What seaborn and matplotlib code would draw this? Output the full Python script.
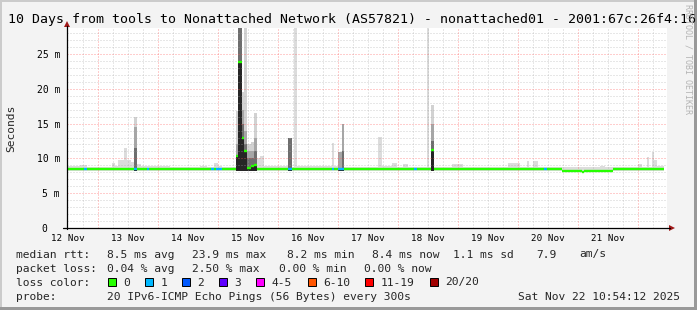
import matplotlib
matplotlib.use("Agg")
import matplotlib.pyplot as plt
import seaborn as sns
import pandas as pd
from matplotlib.patches import Rectangle, Polygon
from matplotlib.lines import Line2D

# ---------------- data (time in hours since 12 Nov 00:00, values in ms) ----------------
day_labels = ["12 Nov", "13 Nov", "14 Nov", "15 Nov", "16 Nov",
              "17 Nov", "18 Nov", "19 Nov", "20 Nov", "21 Nov"]
day_label_hours = [12, 36, 60, 84, 108, 132, 156, 180, 204, 228]

y_ticks = [0, 5, 10, 15, 20, 25]
y_tick_labels = ["0  ", "5 m", "10 m", "15 m", "20 m", "25 m"]

# light smoke envelope (step: value holds from smoke_t[i] to smoke_t[i+1])
smoke_t = [11.6, 16.8, 19.6, 29.6, 30.8, 32.0, 34.4, 35.6, 37.2, 38.4, 39.6, 41.2,
           52.8, 64.8, 67.6, 70.4, 72.0, 73.6, 79.2, 87.6, 88.8, 90.4, 100.0, 101.6,
           102.4, 103.6, 117.6, 118.4, 120.0, 122.4, 136.0, 137.6, 141.6, 143.6, 146.0,
           148.0, 155.6, 156.4, 165.6, 170.0, 188.0, 192.8, 195.6, 196.4, 198.0, 200.0,
           208.8, 224.8, 226.8, 240.0, 241.6, 243.6, 244.4, 245.6, 246.4, 247.6, 250.4]
smoke_top = [8.85, 9.1, 8.75, 9.4, 8.9, 9.7, 11.5, 9.7, 9.5, 9.0, 9.2, 8.85,
             8.75, 8.9, 8.8, 9.4, 8.9, 8.8, 8.8, 10.0, 10.3, 8.9, 8.9, 8.8,
             29.0, 8.95, 12.2, 8.9, 8.9, 8.8, 13.1, 8.85, 9.4, 8.8, 9.2,
             8.8, 29.0, 8.8, 9.2, 8.8, 9.3, 8.8, 9.6, 8.8, 9.6, 8.8,
             8.7, 8.9, 8.8, 9.2, 8.8, 10.2, 8.8, 10.9, 9.8, 8.9]
smoke_min = 8.15

# spiky columns: quantile envelopes of the ping distribution
spike_t0 = [38.4, 79.2, 80.0, 81.6, 82.4, 83.6, 85.2, 86.4, 100.0, 120.0, 121.6, 157.2]
spike_t1 = [39.6, 80.0, 81.6, 82.4, 83.6, 85.2, 86.4, 87.6, 101.6, 121.6, 122.4, 158.4]
spike_max = [16.0, 16.8, 29.0, 19.6, 29.0, 12.0, 12.4, 16.5, 13.0, 10.9, 15.0, 17.7]
spike_q80 = [14.5, 12.0, 29.0, 17.0, 14.0, 11.0, 11.0, 13.0, 13.0, 10.9, 15.0, 15.0]
spike_q65 = [11.5, 10.5, 29.0, 15.0, 12.0, 10.0, 10.0, 11.0, 13.0, 8.4, 11.0, 12.5]
spike_q55 = [8.6, 10.4, 23.9, 13.0, 11.0, 8.6, 8.85, 9.0, 8.4, 8.4, 8.4, 11.2]

# median rtt segments and number of lost pings
med_t0 = [11.6, 18.4, 19.6, 38.4, 39.6, 43.6, 44.4, 64.4, 65.6, 69.2, 70.4, 71.2, 73.6,
          79.2, 80.0, 81.6, 82.4, 83.6, 85.2, 86.4, 87.6, 100.0, 101.6, 117.6, 118.4,
          120.0, 122.4, 150.4, 151.6, 157.2, 158.4, 202.4, 203.6, 209.6, 217.6, 218.4, 230.0]
med_t1 = [18.4, 19.6, 38.4, 39.6, 43.6, 44.4, 64.4, 65.6, 69.2, 70.4, 71.2, 73.6, 79.2,
          80.0, 81.6, 82.4, 83.6, 85.2, 86.4, 87.6, 100.0, 101.6, 117.6, 118.4, 120.0,
          122.4, 150.4, 151.6, 157.2, 158.4, 202.4, 203.6, 209.6, 217.6, 218.4, 230.0, 250.4]
med_v = [8.42, 8.42, 8.42, 8.42, 8.42, 8.42, 8.42, 8.55, 8.42, 8.42, 8.42, 8.42, 8.42,
         10.4, 23.9, 13.0, 11.0, 8.6, 8.85, 9.0, 8.42, 8.42, 8.42, 8.42, 8.42,
         8.42, 8.42, 8.42, 8.42, 11.2, 8.42, 8.42, 8.42, 8.23, 8.1, 8.23, 8.42]
med_loss = [0, 1, 0, 1, 0, 1, 0, 0, 0, 1, 0, 1, 0,
            0, 0, 0, 0, 0, 0, 0, 0, 1, 0, 1, 0,
            1, 0, 1, 0, 0, 0, 1, 0, 0, 0, 0, 0]

loss_labels = ["0", "1", "2", "3", "4-5", "6-10", "11-19", "20/20"]
loss_colors = ["#26ff00", "#00b8ff", "#0059ff", "#5e00ff", "#ff00ff", "#ff5500", "#ff0000", "#a10000"]

title = "10 Days from tools to Nonattached Network (AS57821) - nonattached01 - 2001:67c:26f4:16"
rtt_stats = ["8.5 ms avg", "23.9 ms max", "8.2 ms min", "8.4 ms now", "1.1 ms sd", "7.9", "am/s"]
loss_stats = ["0.04 % avg", "2.50 % max", "0.00 % min", "0.00 % now"]
probe_text = "20 IPv6-ICMP Echo Pings (56 Bytes) every 300s"
stamp = "Sat Nov 22 10:54:12 2025"

T_START, T_END = 11.6, 251.6
Y_MAX = 28.74

# ---------------- style ----------------
sns.set_style("white")
plt.rcParams["font.family"] = ["DejaVu Sans Mono"]
plt.rcParams["lines.scale_dashes"] = False

W, H = 697, 310
fig = plt.figure(figsize=(W / 100, H / 100), dpi=100, facecolor="#f3f3f3")


def fx(x):
    return x / W


def fy(y):
    return 1 - y / H


# frame
fig.add_artist(Rectangle((0, 0), 1, 1, transform=fig.transFigure, facecolor="#f3f3f3",
                         edgecolor="none", zorder=-10))
fig.add_artist(Rectangle((fx(0), fy(2)), fx(697), 2 / H, transform=fig.transFigure,
                         facecolor="#cbcbcb", edgecolor="none"))
fig.add_artist(Rectangle((fx(0), 0), fx(2), 1, transform=fig.transFigure,
                         facecolor="#cbcbcb", edgecolor="none"))
fig.add_artist(Rectangle((fx(694), 0), fx(3), 1, transform=fig.transFigure,
                         facecolor="#999999", edgecolor="none"))
fig.add_artist(Rectangle((0, 0), 1, 3 / H, transform=fig.transFigure,
                         facecolor="#999999", edgecolor="none"))

ax = fig.add_axes([fx(67), fy(228), 600 / W, 200 / H])
ax.set_facecolor("white")
ax.set_xlim(T_START, T_END)
ax.set_ylim(0, Y_MAX)
for s in ax.spines.values():
    s.set_visible(False)

# smoke
widths = [smoke_t[i + 1] - smoke_t[i] for i in range(len(smoke_top))]
ax.bar(smoke_t[:-1], [v - smoke_min for v in smoke_top], width=widths, bottom=smoke_min,
       align="edge", color="#dcdcdc", linewidth=0, zorder=1)
sw = [b - a for a, b in zip(spike_t0, spike_t1)]
for q, col in [(spike_max, "#d2d2d2"), (spike_q80, "#a6a6a6"),
               (spike_q65, "#6e6e6e"), (spike_q55, "#262626")]:
    ax.bar(spike_t0, [v - smoke_min for v in q], width=sw, bottom=smoke_min,
           align="edge", color=col, linewidth=0, zorder=2)

# grid on top of smoke
minor_x = [h for h in range(18, 252, 6) if h % 24 != 0]
major_x = [h for h in range(24, 252, 24)]
minor_y = [v for v in range(1, 29) if v % 5 != 0]
major_y = [5, 10, 15, 20, 25]
dot = (0, (0.72, 1.44))
ax.vlines(minor_x, 0, Y_MAX, colors="#a8a8a8", alpha=0.55, linewidth=0.72, linestyles=[dot], zorder=3)
ax.hlines(minor_y, T_START, T_END, colors="#a8a8a8", alpha=0.55, linewidth=0.72, linestyles=[dot], zorder=3)
ax.vlines(major_x, 0, Y_MAX, colors="#ff5a5a", alpha=0.6, linewidth=0.72, linestyles=[dot], zorder=3)
ax.hlines(major_y, T_START, T_END, colors="#ff5a5a", alpha=0.6, linewidth=0.72, linestyles=[dot], zorder=3)

# median line colored by loss
rows = []
for i, (a, b, v, l) in enumerate(zip(med_t0, med_t1, med_v, med_loss)):
    rows.append({"seg": i, "t": a, "v": v, "loss": loss_labels[l]})
    rows.append({"seg": i, "t": b, "v": v, "loss": loss_labels[l]})
med_df = pd.DataFrame(rows)
sns.lineplot(data=med_df, x="t", y="v", hue="loss", units="seg", estimator=None,
             palette={"0": loss_colors[0], "1": loss_colors[1]}, legend=False,
             linewidth=1.7, solid_capstyle="butt", ax=ax, zorder=5)
ax.set_xlabel("")
ax.set_ylabel("")

# ticks
ax.set_xticks(day_label_hours, day_labels)
ax.set_yticks(y_ticks, y_tick_labels)
ax.tick_params(axis="x", length=0, pad=4, labelsize=6.7, colors="black")
ax.tick_params(axis="y", length=0, pad=5, labelsize=7.0, colors="black")
ax.set_xlim(T_START, T_END)
ax.set_ylim(0, Y_MAX)

# axes lines and arrows
fig.add_artist(Line2D([fx(67), fx(67)], [fy(229), fy(26)], transform=fig.transFigure,
                      color="#000000", linewidth=0.9))
fig.add_artist(Line2D([fx(63), fx(670)], [fy(228), fy(228)], transform=fig.transFigure,
                      color="#000000", linewidth=0.9))
fig.add_artist(Polygon([(fx(64), fy(27)), (fx(70), fy(27)), (fx(67), fy(21))], closed=True,
                       transform=fig.transFigure, facecolor="#a01818", edgecolor="none"))
fig.add_artist(Polygon([(fx(669), fy(225)), (fx(669), fy(231)), (fx(675), fy(228))], closed=True,
                       transform=fig.transFigure, facecolor="#a01818", edgecolor="none"))

# texts
fig.text(fx(8), fy(22.5), title, fontsize=9.5, ha="left", va="baseline", color="black")
fig.text(fx(11), fy(128), "Seconds", rotation=90, fontsize=8.1, ha="center", va="center")
fig.text(fx(688), fy(4), "RRDTOOL / TOBI OETIKER", rotation=270, fontsize=6.0,
         ha="center", va="top", color="#b4b4b4")

fs = 8.1
b1, b2, b3, b4 = 257.5, 271.5, 285.5, 299.5
fig.text(fx(15.6), fy(b1), "median rtt:", fontsize=fs, va="baseline")
for s, x in zip(rtt_stats, [106.7, 192.4, 286.7, 372.4, 453.3, 536.4, 579.1]):
    fig.text(fx(x), fy(b1), s, fontsize=fs, va="baseline")
fig.text(fx(15.6), fy(b2), "packet loss:", fontsize=fs, va="baseline")
for s, x in zip(loss_stats, [106.7, 192.4, 278.7, 364.4]):
    fig.text(fx(x), fy(b2), s, fontsize=fs, va="baseline")
fig.text(fx(15.6), fy(b3), "loss color:", fontsize=fs, va="baseline")
box_x = [108, 145.3, 182, 219, 256.4, 307.6, 365.3, 429.8]
for lab, col, x in zip(loss_labels, loss_colors, box_x):
    fig.add_artist(Rectangle((fx(x), fy(b3 + 0.5)), 8 / W, 8 / H, transform=fig.transFigure,
                             facecolor=col, edgecolor="black", linewidth=0.7))
    fig.text(fx(x + 15.5), fy(b3), lab, fontsize=fs, va="baseline")
fig.text(fx(15.6), fy(b4), "probe:", fontsize=fs, va="baseline")
fig.text(fx(106.7), fy(b4), probe_text, fontsize=fs, va="baseline")
fig.text(fx(680), fy(b4), stamp, fontsize=fs, va="baseline", ha="right")

fig.savefig("out.png", dpi=100, facecolor=fig.get_facecolor())
